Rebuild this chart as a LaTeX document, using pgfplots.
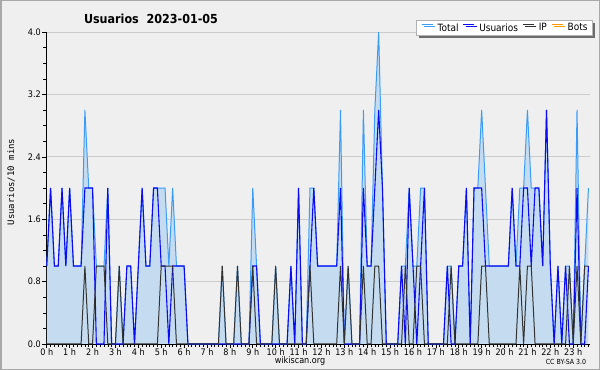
\documentclass[border=0pt]{standalone}
\usepackage{pgfplots}
\usepackage{pgfplotstable}
\pgfplotsset{compat=1.18}
\usetikzlibrary{shadows}
\usepackage{fontspec}
\setmainfont{DejaVu Sans Condensed}
\setmonofont{DejaVu Sans Mono}
\definecolor{bgc}{HTML}{EFEFEF}
\definecolor{bordc}{HTML}{A8A8A8}
\definecolor{fillc}{HTML}{C5DCF0}
\definecolor{totc}{HTML}{3A9CF6}
\definecolor{usrc}{HTML}{0A0AF5}
\definecolor{ipc}{HTML}{333333}
\definecolor{botc}{HTML}{FF9900}
\definecolor{gridc}{HTML}{CCCCCC}
\pgfplotstableread{
i U IP T
0 1 0 1
1 2 0 2
2 1 0 1
3 1 0 1
4 2 0 2
5 1 0 1
6 2 0 2
7 1 0 1
8 1 0 1
9 1 0 1
10 2 1 3
11 2 0 2
12 2 0 2
13 0 1 1
14 0 1 1
15 0 1 1
16 2 0 2
17 0 0 0
18 0 0 0
19 0 1 1
20 0 0 0
21 1 0 1
22 1 0 1
23 0 0 0
24 1 0 1
25 2 0 2
26 1 0 1
27 1 0 1
28 2 0 2
29 2 0 2
30 1 1 2
31 1 1 2
32 0 1 1
33 1 1 2
34 1 0 1
35 1 0 1
36 1 0 1
37 0 0 0
38 0 0 0
39 0 0 0
40 0 0 0
41 0 0 0
42 0 0 0
43 0 0 0
44 0 0 0
45 0 0 0
46 0 1 1
47 0 0 0
48 0 0 0
49 0 0 0
50 0 1 1
51 0 0 0
52 0 0 0
53 0 0 0
54 1 1 2
55 1 0 1
56 0 0 0
57 0 0 0
58 0 0 0
59 0 0 0
60 0 1 1
61 0 0 0
62 0 0 0
63 0 0 0
64 1 0 1
65 0 0 0
66 2 0 2
67 0 0 0
68 0 0 0
69 1 1 2
70 2 0 2
71 1 0 1
72 1 0 1
73 1 0 1
74 1 0 1
75 1 0 1
76 1 0 1
77 2 1 3
78 0 0 0
79 0 1 1
80 0 0 0
81 0 0 0
82 0 0 0
83 2 1 3
84 1 0 1
85 1 0 1
86 2 1 3
87 3 1 4
88 2 0 2
89 0 0 0
90 0 0 0
91 0 0 0
92 0 0 0
93 1 0 1
94 0 1 1
95 2 0 2
96 1 0 1
97 0 1 1
98 1 1 2
99 2 0 2
100 0 0 0
101 0 0 0
102 0 0 0
103 0 0 0
104 0 0 0
105 1 0 1
106 0 1 1
107 0 0 0
108 1 0 1
109 1 0 1
110 2 0 2
111 0 0 0
112 2 0 2
113 2 0 2
114 2 1 3
115 1 1 2
116 1 0 1
117 1 0 1
118 1 0 1
119 1 0 1
120 1 0 1
121 1 0 1
122 2 0 2
123 1 0 1
124 1 1 2
125 2 0 2
126 2 1 3
127 1 1 2
128 2 0 2
129 2 0 2
130 1 0 1
131 3 0 3
132 1 0 1
133 0 0 0
134 1 0 1
135 0 0 0
136 1 0 1
137 0 1 1
138 0 0 0
139 2 1 3
140 0 0 0
141 0 1 1
142 1 1 2
}\datatab
\begin{document}
\begin{tikzpicture}
\path[use as bounding box] (0,0) rectangle (600bp,370bp);
\fill[bgc] (0,0) rectangle (600bp,370bp);
\draw[bordc, line width=1.5bp] (0.75bp,0.75bp) rectangle (599.25bp,369.25bp);
\begin{axis}[
  at={(46bp,26bp)}, anchor=south west,
  scale only axis, width=544bp, height=312bp,
  xmin=-0.2, xmax=142.4, ymin=0, ymax=4,
  axis lines*=left,
  axis line style={black, line width=0.8bp, -},
  xtick={0,6,...,138},
  xticklabels={0 h,1 h,2 h,3 h,4 h,5 h,6 h,7 h,8 h,9 h,10 h,11 h,12 h,13 h,14 h,15 h,16 h,17 h,18 h,19 h,20 h,21 h,22 h,23 h},
  minor xtick={0,...,142},
  ytick={0,0.8,1.6,2.4,3.2,4},
  yticklabels={0.0,0.8,1.6,2.4,3.2,4.0},
  minor ytick={0.2,0.4,0.6,1.0,1.2,1.4,1.8,2.0,2.2,2.6,2.8,3.0,3.4,3.6,3.8},
  tick align=outside,
  major tick length=4bp, minor tick length=3bp,
  tick style={black, line width=0.6bp},
  ymajorgrids, grid style={gridc, line width=0.8bp},
  ticklabel style={font=\fontsize{9bp}{10bp}\selectfont, inner sep=1bp},
  xticklabel style={yshift=1bp},
  legend columns=4,
  legend style={at={(rel axis cs:1.0055,1.0385)}, anchor=north east,
    draw=gray!60, fill=white, line width=0.8bp,
    drop shadow={shadow xshift=2.5bp, shadow yshift=-2.5bp, fill=gray!85!black, opacity=1},
    font=\fontsize{10bp}{11bp}\selectfont, inner xsep=4.5bp, inner ysep=2.5bp,
    nodes={inner sep=0.6bp},
    /tikz/every odd column/.append style={column sep=4bp},
    /tikz/every even column/.append style={column sep=3.5bp}},
  legend image code/.code={\draw[#1, line width=1bp] (0bp,3.6bp) -- (11bp,3.6bp);},
  clip=false,
]
\addplot[fill=fillc, draw=none, forget plot] table[x=i,y=T] {\datatab} \closedcycle;
\addplot[totc, line width=1bp] table[x=i,y=T] {\datatab};
\addplot[usrc, line width=1.1bp] table[x=i,y=U] {\datatab};
\addplot[ipc, line width=1bp] table[x=i,y=IP] {\datatab};
\addlegendimage{botc, line width=1bp}
\legend{Total,Usuarios,IP,Bots}
\end{axis}
\node[font=\bfseries\fontsize{12.4bp}{14bp}\selectfont] at (151bp,351.5bp) {Usuarios\ \ 2023-01-05};
\node[rotate=90, font=\ttfamily\fontsize{9bp}{10bp}\selectfont] at (11bp,188bp) {Usuarios/10 mins};
\node[font=\fontsize{9bp}{10bp}\selectfont] at (300bp,9bp) {wikiscan.org};
\node[font=\fontsize{7bp}{8bp}\selectfont] at (566bp,8bp) {CC BY-SA 3.0};
\end{tikzpicture}
\end{document}
